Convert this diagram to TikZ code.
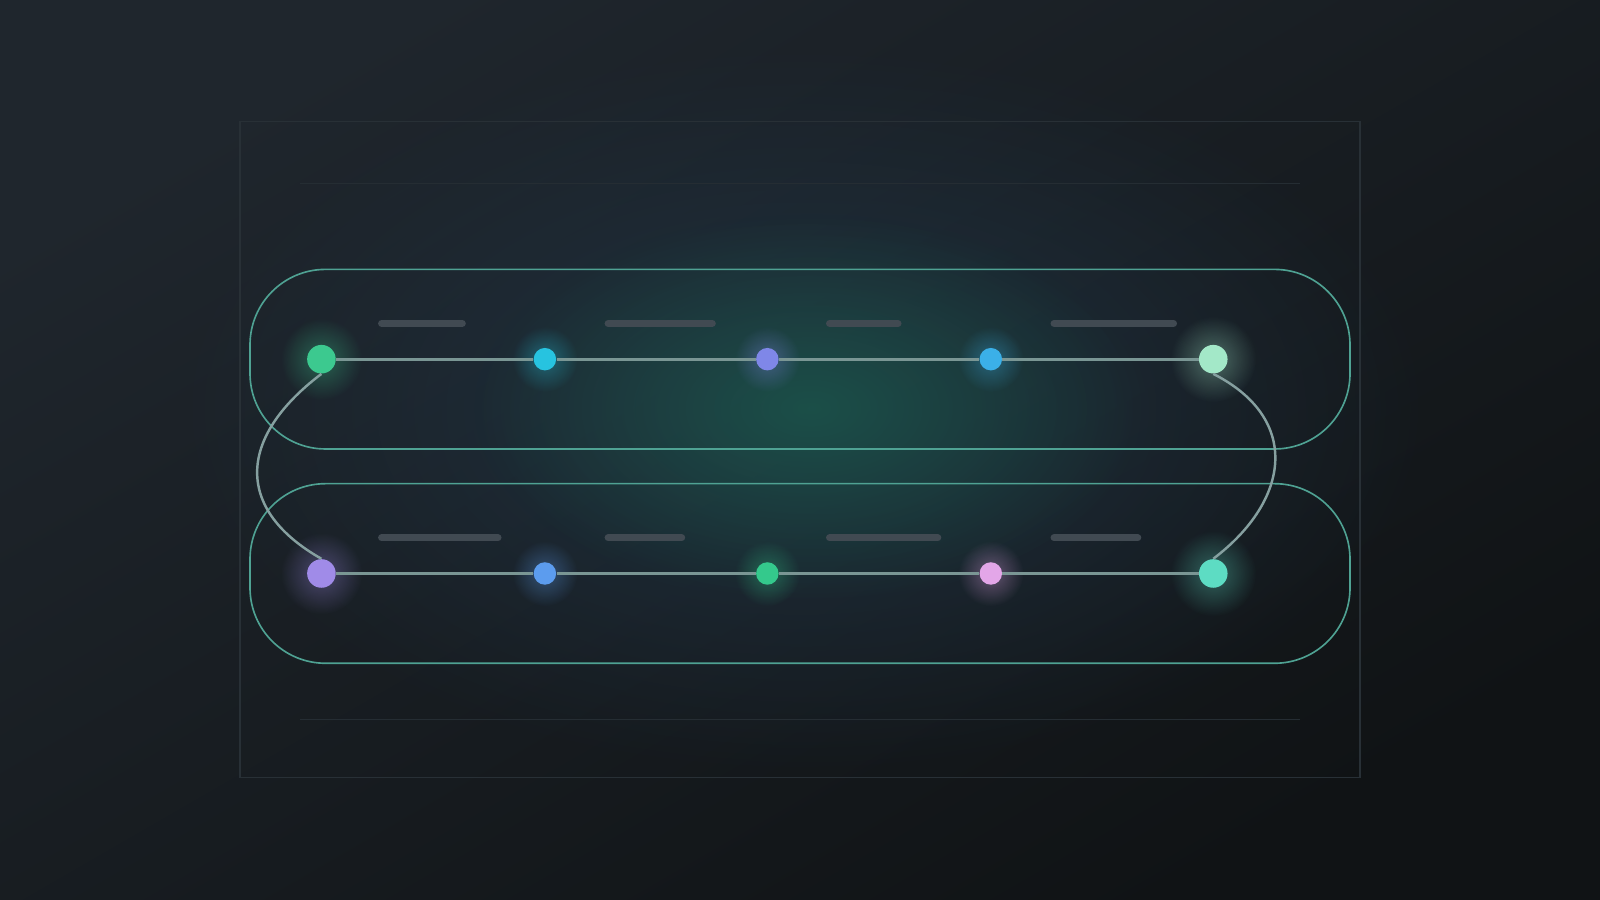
\documentclass[tikz,border=0pt]{standalone}
\usetikzlibrary{fadings}
\tikzfading[name=glowfade, inner color=transparent!0, outer color=transparent!100]
\definecolor{bgTL}{HTML}{1F262D}
\definecolor{bgBR}{HTML}{101315}
\definecolor{glowblue}{HTML}{22384A}
\definecolor{glowgreen}{HTML}{1A5C4C}
\definecolor{framec}{HTML}{283036}
\definecolor{rulec}{HTML}{252D33}
\definecolor{boxc}{HTML}{4FA293}
\definecolor{linkc}{HTML}{7A9694}
\definecolor{curvec}{HTML}{86A0A0}
\definecolor{barc}{HTML}{414A52}
\definecolor{cA}{HTML}{3CC98F}
\definecolor{cB}{HTML}{27C3E0}
\definecolor{cC}{HTML}{7F87E8}
\definecolor{cD}{HTML}{3BB0E8}
\definecolor{cE}{HTML}{A3E8C8}
\definecolor{cF}{HTML}{A08BE8}
\definecolor{cG}{HTML}{5C9CEE}
\definecolor{cH}{HTML}{34C98C}
\definecolor{cI}{HTML}{E3A6E8}
\definecolor{cJ}{HTML}{5DDCC3}
\tikzset{
  bigdot/.style={circle, fill=#1, minimum size=14pt, inner sep=0pt},
  smalldot/.style={circle, fill=#1, minimum size=11pt, inner sep=0pt},
  link/.style={draw=linkc, line width=1.4pt},
  curvelink/.style={draw=curvec, line width=1.2pt},
  rowbox/.style={draw=boxc, line width=0.8pt, rounded corners=37pt},
  labelbar/.style={draw=barc, line width=3.5pt, line cap=round},
  rulestyle/.style={draw=rulec, line width=0.75pt},
}
\newcommand{\glow}[3]{\fill[#1, opacity=0.38, path fading=glowfade] (#2) circle (#3);}
\begin{document}
\begin{tikzpicture}[x=0.5pt,y=-0.5pt]
\useasboundingbox (0,0) rectangle (1568,882);
% background
\shade[top color=bgTL, bottom color=bgBR, shading angle=30] (0,0) rectangle (1568,882);
\fill[glowblue, opacity=0.75, path fading=glowfade] (785,400) ellipse (620 and 360);
\fill[glowgreen, opacity=0.7, path fading=glowfade] (795,400) ellipse (330 and 190);
% frame and rules
\draw[draw=framec, line width=0.75pt] (235,119) rectangle (1333,762);
\draw[rulestyle] (294,180) -- (1274,180);
\draw[rulestyle] (294,705) -- (1274,705);
% row boxes
\draw[rowbox] (245,264) rectangle (1323,440);
\draw[rowbox] (245,474) rectangle (1323,650);
% label bars
\draw[labelbar] (374,317) -- (453,317);
\draw[labelbar] (596,317) -- (698,317);
\draw[labelbar] (813,317) -- (880,317);
\draw[labelbar] (1033,317) -- (1150,317);
\draw[labelbar] (374,527) -- (488,527);
\draw[labelbar] (596,527) -- (668,527);
\draw[labelbar] (813,527) -- (919,527);
\draw[labelbar] (1033,527) -- (1115,527);
% glows
\glow{cA}{315,352}{40}
\glow{cB}{534,352}{32}
\glow{cC}{752,352}{32}
\glow{cD}{971,352}{32}
\glow{cE}{1189,352}{42}
\glow{cF}{315,562}{40}
\glow{cG}{534,562}{32}
\glow{cH}{752,562}{32}
\glow{cI}{971,562}{32}
\glow{cJ}{1189,562}{42}
% nodes
\node[bigdot=cA] (n1) at (315,352) {};
\node[smalldot=cB] (n2) at (534,352) {};
\node[smalldot=cC] (n3) at (752,352) {};
\node[smalldot=cD] (n4) at (971,352) {};
\node[bigdot=cE] (n5) at (1189,352) {};
\node[bigdot=cF] (n6) at (315,562) {};
\node[smalldot=cG] (n7) at (534,562) {};
\node[smalldot=cH] (n8) at (752,562) {};
\node[smalldot=cI] (n9) at (971,562) {};
\node[bigdot=cJ] (n10) at (1189,562) {};
% connectors
\draw[link] (n1) -- (n2);
\draw[link] (n2) -- (n3);
\draw[link] (n3) -- (n4);
\draw[link] (n4) -- (n5);
\draw[link] (n6) -- (n7);
\draw[link] (n7) -- (n8);
\draw[link] (n8) -- (n9);
\draw[link] (n9) -- (n10);
\draw[curvelink] (n1.south) .. controls (231,430) and (231,500) .. (n6.north);
\draw[curvelink] (n5.south) .. controls (1275,410) and (1265,490) .. (n10.north);
\end{tikzpicture}
\end{document}
